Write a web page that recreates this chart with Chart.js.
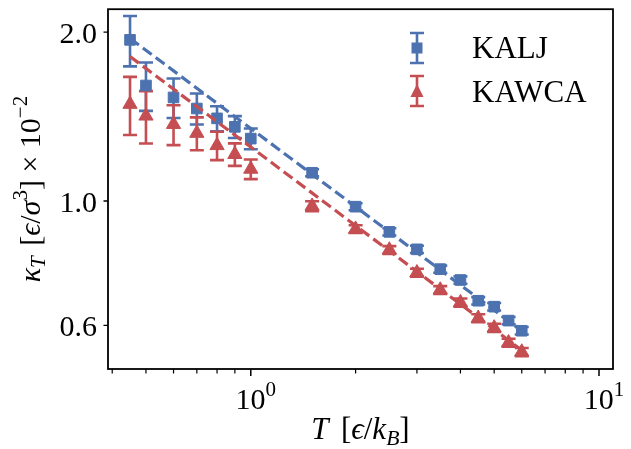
<!DOCTYPE html>
<html lang="en">
<head>
    <meta charset="UTF-8">
    <title>Isothermal compressibility vs temperature</title>
    <script src="https://cdn.jsdelivr.net/npm/chart.js"></script>
    <style>
        html, body { margin: 0; padding: 0; background: #fff; }
        #wrap { width: 631px; height: 449px; }
    </style>
</head>
<body>
    <div id="wrap"><canvas id="kappaChart" width="631" height="449"></canvas></div>

    <script>
        // temperatures T (eps/kB)
        const temps = [0.45, 0.5, 0.6, 0.7, 0.8, 0.9, 1.0, 1.5, 2.0, 2.5, 3.0, 3.5, 4.0, 4.5, 5.0, 5.5, 6.0];
        // kappa_T x 10^-2, with error bars
        const kaljKappa = [1.938, 1.607, 1.53, 1.462, 1.404, 1.356, 1.292, 1.123, 0.977, 0.881, 0.820, 0.756, 0.723, 0.664, 0.648, 0.612, 0.587];
        const kaljErr = [0.20, 0.159, 0.124, 0.093, 0.072, 0.061, 0.055, 0.016, 0.014, 0.013, 0.012, 0.011, 0.011, 0.010, 0.010, 0.009, 0.009];
        const kawcaKappa = [1.488, 1.418, 1.37, 1.321, 1.256, 1.211, 1.14, 0.979, 0.891, 0.818, 0.745, 0.694, 0.659, 0.618, 0.594, 0.559, 0.538];
        const kawcaErr = [0.177, 0.152, 0.112, 0.089, 0.073, 0.056, 0.046, 0.02, 0.014, 0.013, 0.012, 0.011, 0.011, 0.010, 0.010, 0.009, 0.009];
        // power-law fits (straight on log-log), end points
        const fitT = [0.45, 6.0];
        const fitKALJ = [1.95, 0.587];
        const fitKAWCA = [1.81, 0.542];
        // axis ticks
        const xMajor = [1, 10];
        const xMajorExp = ['0', '1'];
        const xMinor = [0.4, 0.5, 0.6, 0.7, 0.8, 0.9, 2, 3, 4, 5, 6, 7, 8, 9];
        const yTicks = [0.6, 1.0, 2.0];
        const yTickLabels = ['0.6', '1.0', '2.0'];

        const BLUE = '#4C72B0';
        const RED = '#C44E52';
        const SERIF = '"Liberation Serif", "DejaVu Serif", serif';
        const FS = 30;

        function pts(xs, ys) { return xs.map((x, i) => ({ x: x, y: ys[i] })); }

        // draws a row of text pieces with sub/superscripts
        function drawRich(ctx, segs, x, y, size, align) {
            const fontFor = s => (s.it ? 'italic ' : '') + (s.sub || s.sup ? size * 0.7 : size) + 'px ' + SERIF;
            let total = 0;
            segs.forEach(s => {
                ctx.font = fontFor(s);
                s.w = (s.gap ? s.gap * size : ctx.measureText(s.t).width);
                total += s.w;
            });
            let cx = align === 'center' ? x - total / 2 : x;
            ctx.textAlign = 'left';
            ctx.textBaseline = 'alphabetic';
            segs.forEach(s => {
                if (!s.gap) {
                    ctx.font = fontFor(s);
                    const dy = s.sub ? size * 0.18 : (s.sup ? -size * 0.42 : 0);
                    ctx.fillText(s.t, cx, y + dy);
                }
                cx += s.w;
            });
        }

        function errBar(ctx, x, yLo, yHi, color) {
            ctx.strokeStyle = color;
            ctx.lineWidth = 2.6;
            ctx.beginPath();
            ctx.moveTo(x, yLo); ctx.lineTo(x, yHi);
            ctx.moveTo(x - 7, yLo); ctx.lineTo(x + 7, yLo);
            ctx.moveTo(x - 7, yHi); ctx.lineTo(x + 7, yHi);
            ctx.stroke();
        }

        const errorBars = {
            id: 'errorBars',
            beforeDatasetsDraw(chart) {
                const { ctx, scales } = chart;
                ctx.save();
                temps.forEach((t, i) => {
                    const x = scales.x.getPixelForValue(t);
                    errBar(ctx, x, scales.y.getPixelForValue(kaljKappa[i] - kaljErr[i]), scales.y.getPixelForValue(kaljKappa[i] + kaljErr[i]), BLUE);
                    errBar(ctx, x, scales.y.getPixelForValue(kawcaKappa[i] - kawcaErr[i]), scales.y.getPixelForValue(kawcaKappa[i] + kawcaErr[i]), RED);
                });
                ctx.restore();
            }
        };

        const axesDecor = {
            id: 'axesDecor',
            afterDraw(chart) {
                const { ctx, chartArea: a, scales } = chart;
                ctx.save();
                ctx.fillStyle = '#000';
                ctx.strokeStyle = '#000';

                // frame
                ctx.lineWidth = 1.8;
                ctx.strokeRect(a.left, a.top, a.right - a.left, a.bottom - a.top);

                // x ticks
                ctx.lineWidth = 1.5;
                ctx.beginPath();
                xMajor.forEach(v => { const x = scales.x.getPixelForValue(v); ctx.moveTo(x, a.bottom); ctx.lineTo(x, a.bottom + 7); });
                ctx.stroke();
                ctx.lineWidth = 1.2;
                ctx.beginPath();
                xMinor.forEach(v => { const x = scales.x.getPixelForValue(v); ctx.moveTo(x, a.bottom); ctx.lineTo(x, a.bottom + 4.5); });
                ctx.stroke();
                xMajor.forEach((v, i) => {
                    drawRich(ctx, [{ t: '10' }, { t: xMajorExp[i], sup: true }], scales.x.getPixelForValue(v) + 5, 409, FS, 'center');
                });

                // y ticks
                ctx.lineWidth = 1.3;
                ctx.beginPath();
                yTicks.forEach(v => { const y = scales.y.getPixelForValue(v); ctx.moveTo(a.left, y); ctx.lineTo(a.left - 4.5, y); });
                ctx.stroke();
                ctx.font = FS + 'px ' + SERIF;
                ctx.textAlign = 'right';
                ctx.textBaseline = 'alphabetic';
                yTicks.forEach((v, i) => ctx.fillText(yTickLabels[i], 97, scales.y.getPixelForValue(v) + 10.5));

                // axis titles
                drawRich(ctx, [{ t: 'T', it: true }, { gap: 0.4 }, { t: '[' }, { t: 'ϵ', it: true }, { t: '/' }, { t: 'k', it: true }, { t: 'B', it: true, sub: true }, { t: ']' }],
                    (a.left + a.right) / 2, 439, 31, 'center');
                ctx.save();
                ctx.translate(40, (a.top + a.bottom) / 2);
                ctx.rotate(-Math.PI / 2);
                drawRich(ctx, [{ t: 'κ', it: true }, { t: 'T', it: true, sub: true }, { gap: 0.35 }, { t: '[' }, { t: 'ϵ', it: true }, { t: '/' },
                    { t: 'σ', it: true }, { t: '3', sup: true }, { t: ']' }, { gap: 0.25 }, { t: '×' }, { gap: 0.25 }, { t: '10' }, { t: '−2', sup: true }], 0, 0, FS, 'center');
                ctx.restore();

                // legend
                const lx = 417;
                errBar(ctx, lx, 33, 63, BLUE);
                ctx.fillStyle = BLUE;
                ctx.fillRect(lx - 5.5, 48 - 5.5, 11, 11);
                errBar(ctx, lx, 76, 106, RED);
                ctx.fillStyle = RED;
                ctx.beginPath();
                ctx.moveTo(lx, 84); ctx.lineTo(lx + 6.5, 97); ctx.lineTo(lx - 6.5, 97); ctx.closePath();
                ctx.fill();
                ctx.fillStyle = '#000';
                ctx.font = '31px ' + SERIF;
                ctx.textAlign = 'left';
                ctx.fillText('KALJ', 472, 58);
                ctx.fillText('KAWCA', 472, 102);
                ctx.restore();
            }
        };

        const ctx = document.getElementById('kappaChart').getContext('2d');
        new Chart(ctx, {
            type: 'scatter',
            data: {
                datasets: [
                    { label: 'KALJ fit', data: pts(fitT, fitKALJ), showLine: true, borderColor: BLUE, borderWidth: 3.2, borderDash: [11, 5], pointRadius: 0, fill: false },
                    { label: 'KAWCA fit', data: pts(fitT, fitKAWCA), showLine: true, borderColor: RED, borderWidth: 3.2, borderDash: [11, 5], pointRadius: 0, fill: false },
                    { label: 'KALJ', data: pts(temps, kaljKappa), pointStyle: 'rect', pointRadius: 7.5, backgroundColor: BLUE, borderColor: BLUE, borderWidth: 1 },
                    { label: 'KAWCA', data: pts(temps, kawcaKappa), pointStyle: 'triangle', pointRadius: 8.2, backgroundColor: RED, borderColor: RED, borderWidth: 1 }
                ]
            },
            options: {
                responsive: false,
                animation: false,
                layout: { padding: { left: 108, right: 18, top: 9, bottom: 80 } },
                scales: {
                    x: { type: 'logarithmic', display: false, min: 0.389, max: 10.97 },
                    y: { type: 'logarithmic', display: false, min: 0.5017, max: 2.198 }
                },
                plugins: { legend: { display: false }, tooltip: { enabled: false } }
            },
            plugins: [errorBars, axesDecor]
        });
    </script>
</body>
</html>
